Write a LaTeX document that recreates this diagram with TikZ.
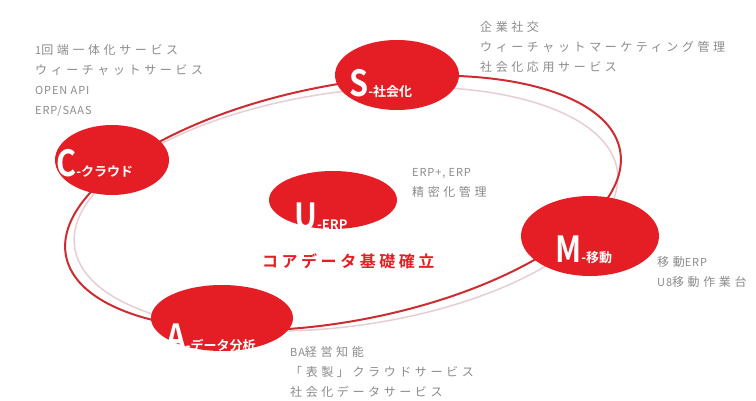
\documentclass[tikz,border=0pt]{standalone}
\usepackage{fontspec}
\setmainfont{Liberation Sans}
\newfontfamily\jpInfo{Noto Sans CJK JP}[LetterSpace=30]
\newfontfamily\latInfo{Noto Sans CJK JP}[LetterSpace=8]
\newfontfamily\jpCore{Noto Sans CJK JP Bold}[LetterSpace=22]
\newfontfamily\jpCap{Noto Sans CJK JP Bold}[FakeStretch=0.85]
\newfontfamily\jpTag{Noto Sans CJK JP Bold}
\usetikzlibrary{shapes.geometric}
\definecolor{blobred}{RGB}{228,30,36}
\definecolor{ringred}{RGB}{205,45,50}
\definecolor{ringfaint}{RGB}{232,205,210}
\definecolor{txtgray}{RGB}{140,140,140}
\newcommand{\infoFont}{\jpInfo\fontsize{12}{20}\selectfont}
\newcommand{\lat}[1]{{\latInfo\fontsize{11}{20}\selectfont #1}}
\newcommand{\capFont}{\jpCap\fontsize{36}{36}\selectfont}
\newcommand{\tagFont}{\jpTag\fontsize{13}{13}\selectfont}
\newcommand{\coreFont}{\jpCore\fontsize{16}{16}\selectfont}
\begin{document}
\begin{tikzpicture}[x=1pt,y=-1pt,
  blob/.style={ellipse, fill=blobred, inner sep=0},
  tag/.style={anchor=base west, inner sep=0, text=white},
  info/.style={anchor=north west, inner sep=0, align=left, text=txtgray, font=\infoFont}]
\useasboundingbox (0,0) rectangle (756,401);
\fill[white] (0,0) rectangle (756,401);
% rings
\draw[ringfaint, line width=1.5pt, rotate around={8:(346,209)}] (346,209) ellipse (274 and 117);
\draw[ringred, line width=2pt, rotate around={10.8:(343,203)}] (343,203) ellipse (282 and 118);
% blobs
\node[blob, minimum width=114, minimum height=70] (C) at (112,160) {};
\node[blob, minimum width=124, minimum height=70] (S) at (397,75) {};
\node[blob, minimum width=128, minimum height=58] (U) at (333,200) {};
\node[blob, minimum width=138, minimum height=80] (M) at (590,236) {};
\node[blob, minimum width=142, minimum height=66] (A) at (222,318) {};
% tags
\node[tag] (Ct) at (56,177) {\capFont C\tagFont -クラウド};
\node[tag] (St) at (349,97) {\capFont S\tagFont -社会化};
\node[tag] (Ut) at (294,230) {\capFont U\tagFont -ERP};
\node[tag] (Mt) at (555,262) {\capFont M\tagFont -移動};
\node[tag] (At) at (166,350) {\capFont A\tagFont -データ分析};
% core text
\node[anchor=west, inner sep=0, text=blobred, font=\coreFont] (core) at (262,261) {コアデータ基礎確立};
% info texts
\node[info] (Ci) at (35,44) {\lat{1}回端一体化サービス\\ウィーチャットサービス\\\lat{OPEN API}\\\lat{ERP/SAAS}};
\node[info] (Si) at (480,21) {企業社交\\ウィーチャットマーケティング管理\\社会化応用サービス};
\node[info] (Ui) at (412,168) {\lat{ERP+, ERP}\\精密化管理};
\node[info] (Mi) at (657,256) {移動\lat{ERP}\\\lat{U8}移動作業台};
\node[info] (Ai) at (290,346) {\lat{BA}経営知能\\「表製」クラウドサービス\\社会化データサービス};
\end{tikzpicture}
\end{document}
